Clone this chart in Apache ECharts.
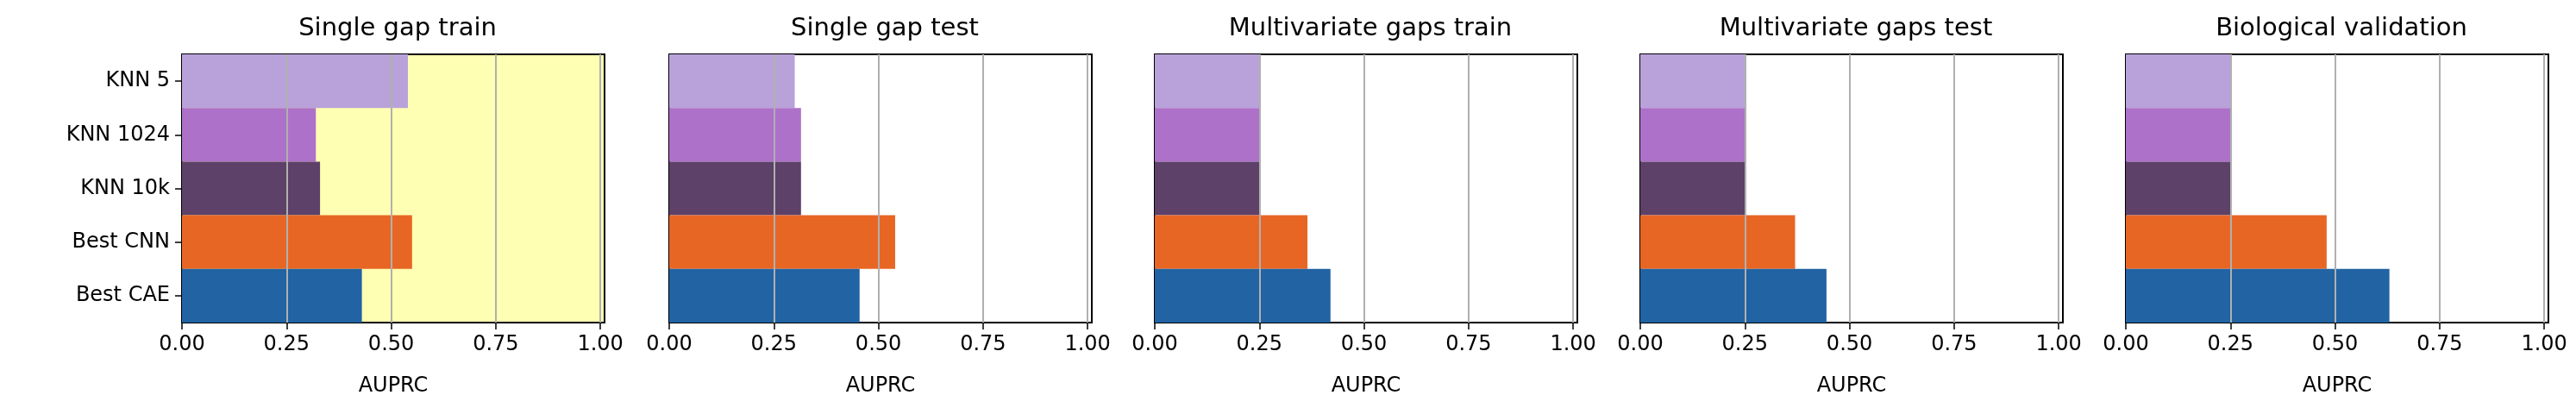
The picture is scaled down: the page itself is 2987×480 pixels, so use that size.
<!DOCTYPE html>
<html>
<head>
<meta charset="utf-8">
<script src="https://cdn.jsdelivr.net/npm/echarts@6/dist/echarts.min.js"></script>
<style>html,body{margin:0;padding:0;background:#fff}#main{width:2987px;height:480px}</style>
</head>
<body>
<div id="main"></div>
<script>
const categories = ['KNN 5', 'KNN 1024', 'KNN 10k', 'Best CNN', 'Best CAE'];
const colors = ['#b9a2da', '#ad71c9', '#5d4169', '#e86624', '#2163a3'];
const titles = ['Single gap train', 'Single gap test', 'Multivariate gaps train', 'Multivariate gaps test', 'Biological validation'];
const singleTrain = [0.54, 0.32, 0.33, 0.55, 0.43];
const singleTest = [0.30, 0.315, 0.315, 0.54, 0.455];
const multiTrain = [0.25, 0.25, 0.25, 0.365, 0.42];
const multiTest = [0.25, 0.25, 0.25, 0.37, 0.445];
const bioValid = [0.25, 0.25, 0.25, 0.48, 0.63];
const tickValues = [0, 0.25, 0.5, 0.75, 1.0];
const panels = [singleTrain, singleTest, multiTrain, multiTest, bioValid];

const lefts = [211, 776, 1339, 1902, 2465];
const W = 490;
const font = 'DejaVu Sans';

const chart = echarts.init(document.getElementById('main'));
const option = { animation: false, title: [], grid: [], xAxis: [], yAxis: [], series: [] };

panels.forEach((vals, i) => {
  option.title.push({
    text: titles[i], left: lefts[i] + W / 2, top: 14, textAlign: 'center',
    textStyle: { fontFamily: font, fontWeight: 'normal', fontSize: 29, color: '#000' }
  });
  option.grid.push({
    left: lefts[i], top: 63, width: W, height: 311, show: true,
    backgroundColor: i === 0 ? '#ffffb3' : '#fff', borderColor: '#000', borderWidth: 2
  });
  option.xAxis.push({
    type: 'value', gridIndex: i, min: 0, max: 1.01,
    name: 'AUPRC', nameLocation: 'middle', nameGap: 62,
    nameTextStyle: { fontFamily: font, fontSize: 24, color: '#000' },
    axisLine: { show: false },
    axisTick: { show: true, length: 8, customValues: tickValues, lineStyle: { color: '#000', width: 1.5 } },
    axisLabel: { customValues: tickValues, margin: 14, fontFamily: font, fontSize: 24, color: '#000',
      formatter: v => v.toFixed(2) },
    splitLine: { show: false }
  });
  option.yAxis.push({
    type: 'category', gridIndex: i, data: categories, inverse: true,
    axisLine: { show: false },
    axisTick: { show: i === 0, alignWithLabel: true, length: 8, lineStyle: { color: '#000', width: 1.5 } },
    axisLabel: { show: i === 0, margin: 14, fontFamily: font, fontSize: 24, color: '#000' }
  });
  option.series.push({
    type: 'bar', xAxisIndex: i, yAxisIndex: i, barWidth: '100%',
    data: vals.map((v, k) => ({ value: v, itemStyle: { color: colors[k] } })),
    markLine: {
      silent: true, symbol: 'none', label: { show: false },
      lineStyle: { color: '#b0b0b0', type: 'solid', width: 2 },
      data: tickValues.slice(1).map(v => ({ xAxis: v }))
    }
  });
});

chart.setOption(option);
</script>
</body>
</html>
